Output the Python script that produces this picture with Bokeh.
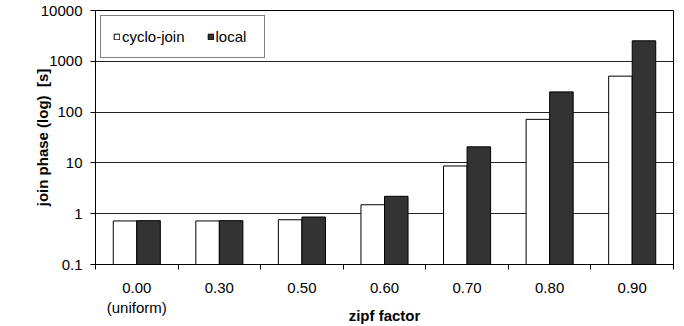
import numpy as np
from bokeh.plotting import figure
from bokeh.models import Range1d, FixedTicker, NumeralTickFormatter, ColumnDataSource, Legend, LegendItem
from bokeh.embed import file_html
from bokeh.resources import INLINE

# ---- data ----
zipf_labels = ["0.00\n(uniform)", "0.30", "0.50", "0.60", "0.70", "0.80", "0.90"]
cyclo_join = [0.72, 0.72, 0.76, 1.5, 8.7, 72, 510]
local = [0.73, 0.73, 0.86, 2.2, 20.7, 250, 2530]
y_ticks = [0.1, 1, 10, 100, 1000, 10000]

FONT = "Liberation Sans"
FS = "15px"
idx = np.arange(len(zipf_labels))
bar_w = 0.285

src = ColumnDataSource(dict(
    x_c=idx - bar_w / 2, x_l=idx + bar_w / 2,
    cyclo=cyclo_join, local=local,
))

p = figure(width=684, height=326, y_axis_type="log",
           x_range=Range1d(-0.5, len(zipf_labels) - 0.5),
           y_range=Range1d(0.1, 10000),
           output_backend="svg", toolbar_location=None,
           min_border_left=95, min_border_right=11,
           min_border_top=10, min_border_bottom=62)

p.background_fill_color = "white"
p.border_fill_color = "white"
p.outline_line_color = "black"
p.outline_line_width = 1

r1 = p.vbar(x="x_c", top="cyclo", bottom=0.1, width=bar_w, source=src,
            fill_color="white", line_color="black", line_width=1)
r2 = p.vbar(x="x_l", top="local", bottom=0.1, width=bar_w, source=src,
            fill_color="#333333", line_color="black", line_width=1)

# grid
p.xgrid.visible = False
p.ygrid.grid_line_color = "#222222"
p.ygrid.grid_line_width = 1
p.ygrid.ticker = FixedTicker(ticks=y_ticks)

# y axis
ya = p.yaxis[0]
ya.ticker = FixedTicker(ticks=y_ticks, minor_ticks=[])
ya.formatter = NumeralTickFormatter(format="0.[0]")
ya.axis_label = "join phase (log)\u00a0 [s]"
ya.axis_label_text_font = FONT
ya.axis_label_text_font_style = "bold"
ya.axis_label_text_font_size = FS
ya.axis_label_text_color = "black"
ya.axis_label_standoff = -13
ya.major_label_text_font = FONT
ya.major_label_text_font_size = FS
ya.major_label_text_color = "black"
ya.major_label_standoff = 8
ya.major_tick_out = 5
ya.major_tick_in = 0
ya.minor_tick_out = 0
ya.minor_tick_in = 0
ya.axis_line_color = "black"
ya.major_tick_line_color = "black"

# x axis
xa = p.xaxis[0]
xa.ticker = FixedTicker(ticks=list(idx), minor_ticks=list(np.arange(len(zipf_labels) + 1) - 0.5))
xa.major_label_overrides = {int(i): lab for i, lab in zip(idx, zipf_labels)}
xa.axis_label = "zipf factor"
xa.axis_label_text_font = FONT
xa.axis_label_text_font_style = "bold"
xa.axis_label_text_font_size = FS
xa.axis_label_text_color = "black"
xa.axis_label_standoff = -12
xa.major_label_text_font = FONT
xa.major_label_text_font_size = FS
xa.major_label_text_color = "black"
xa.major_label_standoff = 9
xa.major_tick_out = 0
xa.major_tick_in = 0
xa.minor_tick_out = 5
xa.minor_tick_in = 0
xa.minor_tick_line_color = "black"
xa.axis_line_color = "black"

legend = Legend(items=[LegendItem(label="cyclo-join", renderers=[r1]),
                       LegendItem(label="local", renderers=[r2])],
                orientation="horizontal", location="top_left")
legend.margin = 5
legend.padding = 12
legend.spacing = 22
legend.glyph_width = 7
legend.glyph_height = 7
legend.label_height = 15
legend.label_width = 36
legend.label_standoff = 2
legend.label_text_font = FONT
legend.label_text_font_size = FS
legend.label_text_color = "black"
legend.border_line_color = "black"
legend.border_line_width = 1
legend.background_fill_color = "white"
legend.background_fill_alpha = 1
p.add_layout(legend)

open("out.html", "w").write(file_html(p, INLINE))
